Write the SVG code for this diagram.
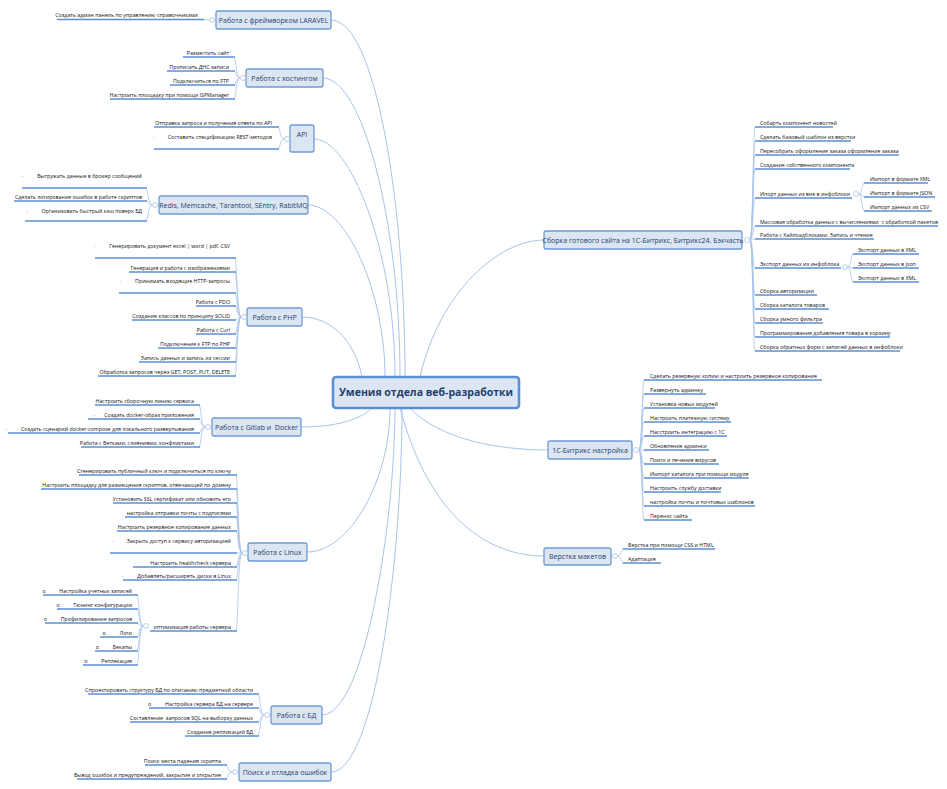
<svg xmlns="http://www.w3.org/2000/svg" width="947" height="789" viewBox="0 0 947 789">
<style>
text{font-family:"Open Sans","Liberation Sans",sans-serif;fill:#111;font-size:5.3px;white-space:pre}
.e{text-anchor:end}
.t{font-size:7px;fill:#1f3f6e;text-anchor:middle}
.c{font-size:10.5px;font-weight:bold;fill:#1f3f6e;text-anchor:middle}
.b{fill:#dce6f2;stroke:#6f9bd6;stroke-width:1.3}
.m{fill:none;stroke:#a9c4ea;stroke-width:1}
.k{fill:none;stroke:#a9c4ea;stroke-width:0.8}
.u{fill:none;stroke:#5b8fd5;stroke-width:1.4}
.o{fill:#fff;stroke:#a9c4ea;stroke-width:0.8}
</style>
<rect width="947" height="789" fill="#fff"/>
<g id="connectors">
<path class="m" d="M331,20C375,20 405,200 405,377"/>
<path class="m" d="M323,78C362,78 400,220 400,377"/>
<path class="m" d="M314,139C350,139 395,250 395,377"/>
<path class="m" d="M308,205C345,205 385,290 385,377"/>
<path class="m" d="M302,317C330,317 355,340 362,377"/>
<path class="m" d="M301,427C335,427 360,420 372,408"/>
<path class="m" d="M307,552C350,552 390,480 390,408"/>
<path class="m" d="M322,715C365,715 395,520 395,408"/>
<path class="m" d="M331,772C375,772 402,560 402,408"/>
<path class="m" d="M420,377C440,290 500,240 544,240"/>
<path class="m" d="M410,408C440,440 500,450 548,450"/>
<path class="m" d="M400,408C430,520 490,556 544,556"/>
<g id="brackets">
<path class="k" d="M209,20H203"/>
<path class="k" d="M240,78C236,78 236,57 234,57M240,78C236,78 236,71 234,71M240,78C236,78 236,85 234,85M240,78C236,78 236,99 234,99"/>
<path class="k" d="M284,139C280,139 280,127 278,127M284,139C280,139 280,149 278,149"/>
<path class="k" d="M152,205C148,205 148,188 146,188M152,205C148,205 148,201 146,201M152,205C148,205 148,221 146,221"/>
<path class="k" d="M241,317C237,317 237,258 235,258M241,317C237,317 237,272 235,272M241,317C237,317 237,293 235,293M241,317C237,317 237,306 235,306M241,317C237,317 237,320 235,320M241,317C237,317 237,334 235,334M241,317C237,317 237,348 235,348M241,317C237,317 237,362 235,362M241,317C237,317 237,376 235,376"/>
<path class="k" d="M205,427C201,427 201,405 199,405M205,427C201,427 201,419 199,419M205,427C201,427 201,433 199,433M205,427C201,427 201,447 199,447"/>
<path class="k" d="M242,553C238,553 238,475 236,475M242,553C238,553 238,489 236,489M242,553C238,553 238,503 236,503M242,553C238,553 238,517 236,517M242,553C238,553 238,531 236,531M242,553C238,553 238,553 236,553M242,553C238,553 238,567 236,567M242,553C238,553 238,580 236,580M242,553C238,553 238,631 236,631"/>
<path class="k" d="M143,626C139,626 139,595 137,595M143,626C139,626 139,609 137,609M143,626C139,626 139,623 137,623M143,626C139,626 139,637 137,637M143,626C139,626 139,651 137,651M143,626C139,626 139,665 137,665"/>
<path class="k" d="M264,715C260,715 260,694 258,694M264,715C260,715 260,708 258,708M264,715C260,715 260,722 258,722M264,715C260,715 260,736 258,736"/>
<path class="k" d="M232,772C228,772 228,765 226,765M232,772C228,772 228,779 226,779"/>
<path class="k" d="M750,240C753,240 753,127 755,127M750,240C753,240 753,141 755,141M750,240C753,240 753,155 755,155M750,240C753,240 753,169 755,169M750,240C753,240 753,198 755,198M750,240C753,240 753,226 755,226M750,240C753,240 753,239 755,239M750,240C753,240 753,268 755,268M750,240C753,240 753,295 755,295M750,240C753,240 753,309 755,309M750,240C753,240 753,323 755,323M750,240C753,240 753,337 755,337M750,240C753,240 753,351 755,351"/>
<path class="k" d="M859,194C862,194 862,183 864,183M859,194C862,194 862,197 864,197M859,194C862,194 862,211 864,211"/>
<path class="k" d="M848,267C851,267 851,254 853,254M848,267C851,267 851,268 853,268M848,267C851,267 851,282 853,282"/>
<path class="k" d="M639,450C642,450 642,380 644,380M639,450C642,450 642,394 644,394M639,450C642,450 642,408 644,408M639,450C642,450 642,422 644,422M639,450C642,450 642,436 644,436M639,450C642,450 642,450 644,450M639,450C642,450 642,464 644,464M639,450C642,450 642,478 644,478M639,450C642,450 642,492 644,492M639,450C642,450 642,506 644,506M639,450C642,450 642,520 644,520"/>
<path class="k" d="M618,556C621,556 621,549 623,549M618,556C621,556 621,563 623,563"/>
</g>
</g>
<g id="center"><rect x="333" y="377" width="186" height="31" rx="3" fill="#dce6f2" stroke="#5b8fd5" stroke-width="2.6"/><text class="c" x="426" y="396">Умения отдела веб-разработки</text></g>

<g id="laravel"><rect class="b" x="216" y="11" width="115" height="18" rx="2"/><text class="t" x="273.5" y="22.5">Работа с фреймворком LARAVEL</text><circle class="o" cx="212" cy="20" r="2.5"/>
<text class="e" x="198" y="16.5">Создать админ панель по управлению справочниками</text><path class="u" d="M57,19.5H204"/></g>

<g id="hosting"><rect class="b" x="246" y="69" width="77" height="18" rx="2"/><text class="t" x="284.5" y="80.5">Работа с хостингом</text><circle class="o" cx="243" cy="78" r="2.5"/>
<text class="e" x="229" y="54.5">Разместить сайт</text><path class="u" d="M183,57H235"/>
<text class="e" x="229" y="68.5">Прописать ДНС записи</text><path class="u" d="M167,71H235"/>
<text class="e" x="229" y="82.5">Подключиться по FTP</text><path class="u" d="M170,85H235"/>
<text class="e" x="229" y="96.5">Настроить площадку при помощи ISPManager</text><path class="u" d="M110,99H235"/></g>

<g id="api"><rect class="b" x="290" y="125" width="24" height="27" rx="2"/><text class="t" x="302" y="137">API</text><circle class="o" cx="287" cy="139" r="2.5"/>
<text class="e" x="272" y="124.5">Отправка запроса и получения ответа по API</text><path class="u" d="M154,127H279"/>
<text class="e" x="272" y="138.5">·          Составить спецификацию REST-методов</text><path class="u" d="M154,149H279"/></g>

<g id="redis"><rect class="b" x="159" y="196" width="149" height="18" rx="2"/><text class="t" x="233.5" y="207.5">Redis, Memcache, Tarantool, SEntry, RabitMQ</text><circle class="o" cx="155" cy="205" r="2.5"/>
<text class="e" x="142" y="177.5">·          Выгружать данные в брокер сообщений</text><path class="u" d="M22,188H147"/>
<text class="e" x="142" y="198.5">Сделать логирование ошибок в работе скриптов</text><path class="u" d="M14,201H147"/>
<text class="e" x="142" y="212.5">·          Организовать быстрый кэш поверх БД</text><path class="u" d="M25,221H147"/></g>

<g id="php"><rect class="b" x="247" y="308" width="55" height="18" rx="2"/><text class="t" x="274.5" y="319.5">Работа с PHP</text><circle class="o" cx="244" cy="317" r="2.5"/>
<text class="e" x="230" y="247.5">·          Генерировать документ excel | word | pdf, CSV</text><path class="u" d="M95,258H236"/>
<text class="e" x="230" y="269.5">Генерация и работа с изображениями</text><path class="u" d="M129,272H236"/>
<text class="e" x="230" y="282.5">·          Принимать входящие HTTP-запросы</text><path class="u" d="M119,293H236"/>
<text class="e" x="230" y="303.5">Работа с PDO</text><path class="u" d="M196,306H236"/>
<text class="e" x="230" y="317.5">Создание классов по принципу SOLID</text><path class="u" d="M132,320H236"/>
<text class="e" x="230" y="331.5">Работа с Curl</text><path class="u" d="M196,334H236"/>
<text class="e" x="230" y="345.5">Подключение к FTP по PHP</text><path class="u" d="M158,348H236"/>
<text class="e" x="230" y="359.5">Запись данных и запись из сессии</text><path class="u" d="M139,362H236"/>
<text class="e" x="230" y="373.5">Обработка запросов через GET, POST, PUT, DELETE</text><path class="u" d="M98,376H236"/></g>

<g id="gitlab"><rect class="b" x="212" y="418" width="89" height="18" rx="2"/><text class="t" x="256.5" y="429.5">Работа с Gitlab и  Docker</text><circle class="o" cx="208" cy="427" r="2.5"/>
<text class="e" x="194" y="402.5">Настроить сборочную линию сервиса</text><path class="u" d="M95,405H200"/>
<text class="e" x="194" y="416.5">·       Создать docker-образ приложения</text><path class="u" d="M88,419H200"/>
<text class="e" x="194" y="430.5">·          Создать сценарий docker-compose для локального развертывания</text><path class="u" d="M8,433H200"/>
<text class="e" x="194" y="444.5">Работа с Ветками, слияниями, конфликтами</text><path class="u" d="M81,447H200"/></g>

<g id="linux"><rect class="b" x="248" y="543" width="59" height="18" rx="2"/><text class="t" x="277.5" y="554.5">Работа с Linux</text><circle class="o" cx="245" cy="553" r="2.5"/>
<text class="e" x="231" y="472.5">Сгенерировать публичный ключ и подключиться по ключу</text><path class="u" d="M79,475H237"/>
<text class="e" x="231" y="486.5">Настроить площадку для размещения скриптов, отвечающей по домену</text><path class="u" d="M41,489H237"/>
<text class="e" x="231" y="500.5">Установить SSL сертификат или обновить его</text><path class="u" d="M113,503H237"/>
<text class="e" x="231" y="514.5">настройка отправки почты с подписями</text><path class="u" d="M125,517H237"/>
<text class="e" x="231" y="528.5">Настроить резервное копирование данных</text><path class="u" d="M117,531H237"/>
<text class="e" x="231" y="542.5">·          Закрыть доступ к сервису авторизацией</text><path class="u" d="M110,553H237"/>
<text class="e" x="231" y="564.5">·          Настроить healthcheck сервера</text><path class="u" d="M133,567H237"/>
<text class="e" x="231" y="577.5">·          Добавлять/расширять диски в Linux</text><path class="u" d="M123,580H237"/>
<text class="e" x="231" y="628.5">оптимизация работы сервера</text><path class="u" d="M150,631H237"/>
<circle class="o" cx="146" cy="626" r="2.5"/>
<text class="e" x="132" y="592.5">o          Настройка учетных записей</text><path class="u" d="M43,595H138"/>
<text class="e" x="132" y="606.5">o          Тюнинг конфигурации</text><path class="u" d="M57,609H138"/>
<text class="e" x="132" y="620.5">o          Профилирование запросов</text><path class="u" d="M45,623H138"/>
<text class="e" x="132" y="634.5">o          Логи</text><path class="u" d="M100,637H138"/>
<text class="e" x="132" y="648.5">o          Бекапы</text><path class="u" d="M95,651H138"/>
<text class="e" x="132" y="662.5">o          Реплекация</text><path class="u" d="M83,665H138"/></g>

<g id="db"><rect class="b" x="271" y="706" width="51" height="18" rx="2"/><text class="t" x="296.5" y="717.5">Работа с БД</text><circle class="o" cx="267" cy="715" r="2.5"/>
<text class="e" x="253" y="691.5">Спроектировать структуру БД по описанию предметной области</text><path class="u" d="M88,694H259"/>
<text class="e" x="253" y="705.5">o          Настройка сервера БД на сервере</text><path class="u" d="M149,708H259"/>
<text class="e" x="253" y="719.5">Составление  запросов SQL на выборку данных</text><path class="u" d="M130,722H259"/>
<text class="e" x="253" y="733.5">Создание репликаций БД</text><path class="u" d="M185,736H259"/></g>

<g id="debug"><rect class="b" x="239" y="763" width="92" height="18" rx="2"/><text class="t" x="285" y="774.5">Поиск и отладка ошибок</text><circle class="o" cx="235" cy="772" r="2.5"/>
<text class="e" x="221" y="762.5">Поиск места падения скрипта</text><path class="u" d="M145,765H227"/>
<text class="e" x="221" y="776.5">Вывод ошибок и предупреждений, закрытие и открытие</text><path class="u" d="M77,779H227"/></g>

<g id="bitrix-build"><rect class="b" x="544" y="231" width="198" height="18" rx="2"/><text class="t" x="643" y="242.5">Сборка готового сайта на 1С-Битрикс, Битрикс24. Бэкчасть</text><circle class="o" cx="747" cy="240" r="2.5"/>
<text x="760" y="124.5">Собарть компонент новостей</text><path class="u" d="M755,127H833"/>
<text x="760" y="138.5">Сделать базовый шаблон из верстки</text><path class="u" d="M755,141H851"/>
<text x="760" y="152.5">Пересобрать оформление заказа оформление заказа</text><path class="u" d="M755,155H899"/>
<text x="760" y="166.5">Создание собственного компонента</text><path class="u" d="M755,169H850"/>
<text x="760" y="195.5">Ипорт данных из вне в инфоблоки</text><path class="u" d="M755,198H852"/>
<circle class="o" cx="856" cy="194" r="2.5"/>
<text x="870" y="180.5">Импорт в формате XML</text><path class="u" d="M864,183H928"/>
<text x="870" y="194.5">Импорт в формате JSON</text><path class="u" d="M864,197H935"/>
<text x="870" y="208.5">Импорт данных из CSV</text><path class="u" d="M864,211H932"/>
<text x="760" y="223.5">Массовая обработка данных с вычислениями  с обработкой пакетов</text><path class="u" d="M755,226H938"/>
<text x="760" y="236.5">Работа с Хайлоадблоками. Запись и чтение</text><path class="u" d="M755,239H874"/>
<text x="760" y="265.5">Экспорт данных из инфоблока</text><path class="u" d="M755,268H841"/>
<circle class="o" cx="845" cy="267" r="2.5"/>
<text x="858" y="251.5">Экспорт данных в XML</text><path class="u" d="M853,254H919"/>
<text x="858" y="265.5">Экспорт данных в json</text><path class="u" d="M853,268H919"/>
<text x="858" y="279.5">Экспорт данных в XML</text><path class="u" d="M853,282H919"/>
<text x="760" y="292.5">Сборка авторизации</text><path class="u" d="M755,295H817"/>
<text x="760" y="306.5">Сборка каталога товаров</text><path class="u" d="M755,309H829"/>
<text x="760" y="320.5">Сборка умного фильтра</text><path class="u" d="M755,323H823"/>
<text x="760" y="334.5">Программирование добавления товара в корзину</text><path class="u" d="M755,337H890"/>
<text x="760" y="348.5">Сборка обратных форм с записей данных в инфоблоки</text><path class="u" d="M755,351H900"/></g>

<g id="bitrix-setup"><rect class="b" x="548" y="441" width="84" height="18" rx="2"/><text class="t" x="590" y="452.5">1С-Битрикс настройка</text><circle class="o" cx="636" cy="450" r="2.5"/>
<text x="650" y="377.5">Сделать резервную копию и настроить резервное копирование</text><path class="u" d="M644,380H822"/>
<text x="650" y="391.5">Развернуть админку</text><path class="u" d="M644,394H706"/>
<text x="650" y="405.5">Установка новых модулей</text><path class="u" d="M644,408H715"/>
<text x="650" y="419.5">Настроить платежную систему</text><path class="u" d="M644,422H731"/>
<text x="650" y="433.5">Насстроить интеграцию с 1С</text><path class="u" d="M644,436H727"/>
<text x="650" y="447.5">Обновление админки</text><path class="u" d="M644,450H709"/>
<text x="650" y="461.5">Поиск и лечение вирусов</text><path class="u" d="M644,464H719"/>
<text x="650" y="475.5">Импорт каталога при помощи модуля</text><path class="u" d="M644,478H749"/>
<text x="650" y="489.5">Настроить службу доставки</text><path class="u" d="M644,492H721"/>
<text x="650" y="503.5">настройка почты и почтовых шаблонов</text><path class="u" d="M644,506H755"/>
<text x="650" y="517.5">Перенос сайта</text><path class="u" d="M644,520H692"/></g>

<g id="layout"><rect class="b" x="544" y="548" width="67" height="17" rx="2"/><text class="t" x="577.5" y="559">Верстка макетов</text><circle class="o" cx="615" cy="556" r="2.5"/>
<text x="628" y="546.5">Верстка при помощи CSS и HTML</text><path class="u" d="M623,549H715"/>
<text x="628" y="560.5">Адаптация</text><path class="u" d="M623,563H661"/></g>
</svg>
